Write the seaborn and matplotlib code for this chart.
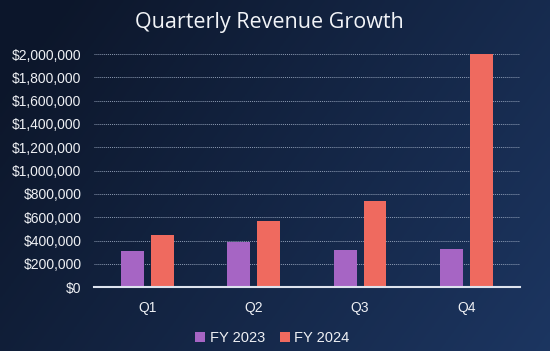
"""Quarterly revenue growth: grouped bars, FY 2023 vs FY 2024."""

import matplotlib
matplotlib.use("Agg")
import matplotlib.pyplot as plt
from matplotlib.ticker import FuncFormatter
import seaborn as sns
import pandas as pd
import numpy as np

quarters = ["Q1", "Q2", "Q3", "Q4"]
fy2023 = [310000, 387000, 316000, 326000]
fy2024 = [447000, 564000, 736000, 2000000]
series_names = ["FY 2023", "FY 2024"]
colors = ["#a665c4", "#ef6a5f"]

df = pd.DataFrame({
    "quarter": quarters * 2,
    "revenue": fy2023 + fy2024,
    "year": [series_names[0]] * 4 + [series_names[1]] * 4,
})

sns.set_theme(style="white")
plt.rcParams["font.family"] = ["Liberation Sans", "DejaVu Sans"]

fig = plt.figure(figsize=(5.5, 3.51), dpi=100)

# navy gradient background
bg = fig.add_axes([0, 0, 1, 1], zorder=-10)
xx, yy = np.meshgrid(np.linspace(0, 1, 200), np.linspace(0, 1, 130))
t = np.clip(0.75 * xx + 0.35 * (1 - yy) - 0.1, 0, 1)
dark = np.array([0.05, 0.09, 0.17])
light = np.array([0.11, 0.21, 0.38])
img = dark + (light - dark) * t[..., None]
bg.imshow(img, aspect="auto", extent=[0, 1, 0, 1], origin="lower")
bg.axis("off")

ax = fig.add_axes([0.171, 0.182, 0.774, 0.664])
ax.patch.set_alpha(0)
sns.barplot(data=df, x="quarter", y="revenue", hue="year", palette=colors,
            width=0.56, gap=0.23, saturation=1, linewidth=0, ax=ax, legend=True)

ax.set_ylim(0, 2000000)
ax.set_yticks(np.arange(0, 2000001, 200000))
ax.yaxis.set_major_formatter(FuncFormatter(lambda v, _: f"${v:,.0f}"))
ax.set_xlim(-0.5, 3.5)
ax.set_xlabel("")
ax.set_ylabel("")
ax.grid(axis="y", color="#a3b1c8", linewidth=0.7, linestyle=(0, (1, 1)), alpha=0.85)
ax.set_axisbelow(True)
for side in ["top", "right", "left"]:
    ax.spines[side].set_visible(False)
ax.spines["bottom"].set_color("#dde3ee")
ax.spines["bottom"].set_linewidth(1.5)
ax.tick_params(axis="both", length=0, colors="#eef0f4", labelsize=10)
ax.tick_params(axis="y", pad=9)
ax.tick_params(axis="x", pad=10)

handles, labels = ax.get_legend_handles_labels()
ax.get_legend().remove()
leg = fig.legend(handles, labels, loc="lower center", bbox_to_anchor=(0.495, -0.02),
                 ncol=2, frameon=False, fontsize=10.5, handlelength=0.7,
                 handleheight=0.7, handletextpad=0.3, columnspacing=1.0)
for txt in leg.get_texts():
    txt.set_color("#eef0f4")

fig.text(0.49, 0.935, "Quarterly Revenue Growth", ha="center", va="center",
         fontsize=15.5, color="#f2f4f8", family=["Open Sans", "DejaVu Sans"])

fig.savefig("out.png", dpi=100)
